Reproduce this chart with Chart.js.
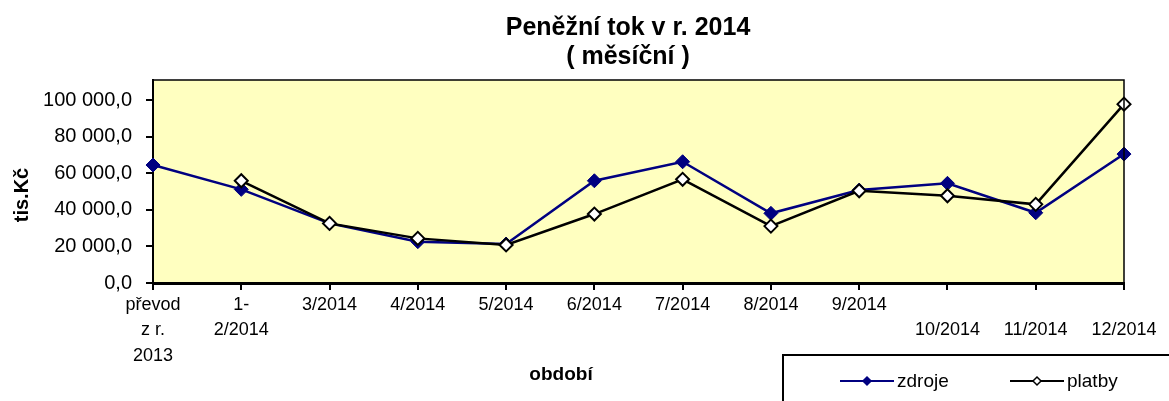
<!DOCTYPE html>
<html>
<head>
<meta charset="utf-8">
<script src="https://cdn.jsdelivr.net/npm/chart.js@4.4.1/dist/chart.umd.min.js"></script>
<style>
  html, body { margin: 0; padding: 0; background: #fff; }
  #wrap { width: 1169px; height: 401px; position: relative; }
</style>
</head>
<body>
<div id="wrap"><canvas id="c" width="1169" height="401"></canvas></div>
<script>
// ── Data ─────────────────────────────────────────────────────────────
const categories = [
  ['převod', 'z r.', '2013'], ['1-', '2/2014'], '3/2014', '4/2014', '5/2014',
  '6/2014', '7/2014', '8/2014', '9/2014', ['', '10/2014'], ['', '11/2014'], ['', '12/2014']
];
const zdroje = [64500, 51200, 32600, 22600, 21300, 55900, 66300, 38100, 50800, 54500, 38400, 70500];
const platby = [null, 55900, 32600, 24400, 20800, 37700, 56700, 31100, 50400, 47700, 43000, 97800];
const yTicks = [0, 20000, 40000, 60000, 80000, 100000];

const chartTitle = ['Peněžní tok v r. 2014', '( měsíční )'];
const xTitle = 'období';
const yTitle = 'tis.Kč';

const FONT = '"Liberation Sans", Arial, sans-serif';
Chart.defaults.font.family = FONT;
Chart.defaults.color = '#000';

function fmt(v) {
  return String(Math.round(v)).replace(/\B(?=(\d{3})+(?!\d))/g, ' ') + ',0';
}

// ── Plot frame, titles, legend ───────────────────────────────────────
const frame = {
  id: 'frame',
  beforeDraw(chart) {
    const { ctx, chartArea: a } = chart;
    ctx.save();
    ctx.fillStyle = '#FFFFC0';
    ctx.fillRect(a.left, a.top, a.right - a.left, a.bottom - a.top);
    ctx.restore();
  },
  afterDraw(chart) {
    const { ctx, chartArea: a } = chart;
    ctx.save();
    ctx.strokeStyle = '#000';
    ctx.lineWidth = 1.5;
    ctx.beginPath();
    ctx.moveTo(a.left, a.top); ctx.lineTo(a.right, a.top); ctx.lineTo(a.right, a.bottom);
    ctx.stroke();

    // titles
    ctx.fillStyle = '#000';
    ctx.textAlign = 'center';
    ctx.textBaseline = 'middle';
    ctx.font = 'bold 25px ' + FONT;
    ctx.fillText(chartTitle[0], 628, 28);
    ctx.fillText(chartTitle[1], 628, 57);
    ctx.font = 'bold 19px ' + FONT;
    ctx.fillText(xTitle, 561, 375);
    ctx.save();
    ctx.translate(22, 195);
    ctx.rotate(-Math.PI / 2);
    ctx.font = 'bold 20px ' + FONT;
    ctx.fillText(yTitle, 0, 0);
    ctx.restore();

    // legend box
    ctx.lineWidth = 2;
    ctx.strokeRect(783, 355, 500, 100);
    const items = [
      { x: 840, label: 'zdroje', ds: chart.data.datasets[0] },
      { x: 1010, label: 'platby', ds: chart.data.datasets[1] }
    ];
    items.forEach(it => {
      ctx.strokeStyle = it.ds.borderColor;
      ctx.lineWidth = 2;
      ctx.beginPath(); ctx.moveTo(it.x, 381); ctx.lineTo(it.x + 54, 381); ctx.stroke();
      ctx.fillStyle = it.ds.pointBackgroundColor;
      ctx.strokeStyle = it.ds.pointBorderColor;
      ctx.lineWidth = 1.5;
      ctx.beginPath();
      ctx.moveTo(it.x + 27, 377); ctx.lineTo(it.x + 31, 381); ctx.lineTo(it.x + 27, 385); ctx.lineTo(it.x + 23, 381);
      ctx.closePath(); ctx.fill(); ctx.stroke();
      ctx.fillStyle = '#000';
      ctx.textAlign = 'left';
      ctx.font = '19px ' + FONT;
      ctx.fillText(it.label, it.x + 57, 382);
    });
    ctx.restore();
  }
};

new Chart(document.getElementById('c'), {
  type: 'line',
  data: {
    labels: categories,
    datasets: [
      { label: 'zdroje', data: zdroje, order: 2, borderColor: '#000080', borderWidth: 2.5,
        pointStyle: 'rectRot', pointRadius: 7, pointBackgroundColor: '#000080',
        pointBorderColor: '#000080', pointBorderWidth: 1, tension: 0 },
      { label: 'platby', data: platby, order: 1, borderColor: '#000', borderWidth: 2.5,
        pointStyle: 'rectRot', pointRadius: 6.5, pointBackgroundColor: '#fff',
        pointBorderColor: '#000', pointBorderWidth: 2, tension: 0 }
    ]
  },
  options: {
    responsive: false,
    animation: false,
    layout: { padding: { top: 80, right: 45, left: 0, bottom: 0 } },
    plugins: { legend: { display: false }, title: { display: false }, tooltip: { enabled: false } },
    scales: {
      x: {
        offset: false,
        grid: { display: true, drawOnChartArea: false, drawTicks: true, tickLength: 7, color: '#000', lineWidth: 2 },
        border: { display: true, color: '#000', width: 3 },
        ticks: { autoSkip: false, maxRotation: 0, minRotation: 0, padding: 3,
                 font: { size: 18, lineHeight: 1.39 } },
        afterFit(s) { s.height = 118; }
      },
      y: {
        min: 0, max: 111000,
        afterBuildTicks(s) { s.ticks = yTicks.map(v => ({ value: v })); },
        grid: { display: true, drawOnChartArea: false, drawTicks: true, tickLength: 7, color: '#000', lineWidth: 2 },
        border: { display: true, color: '#000', width: 2 },
        ticks: { padding: 14, font: { size: 20 }, callback: v => fmt(v) },
        afterFit(s) { s.width = 153; }
      }
    }
  },
  plugins: [frame]
});
</script>
</body>
</html>
